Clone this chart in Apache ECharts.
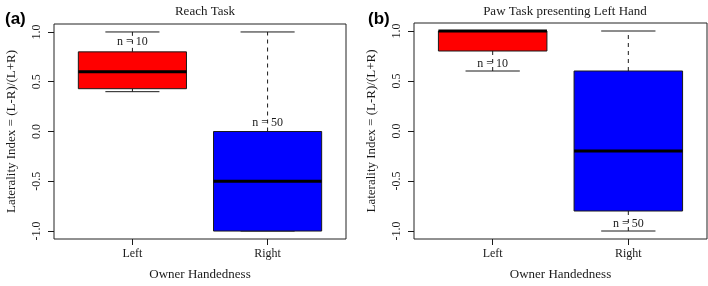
<!DOCTYPE html>
<html>
<head>
<meta charset="utf-8">
<script src="https://cdn.jsdelivr.net/npm/echarts@6/dist/echarts.min.js"></script>
<style>html,body{margin:0;padding:0;background:#fff}#c{width:708px;height:286px}</style>
</head>
<body>
<div id="c"></div>
<script>
// ---- data ----
const categories = ['Left', 'Right'];
const panelTitles = ['Reach Task', 'Paw Task presenting Left Hand'];
const panelLetters = ['(a)', '(b)'];
const yTicks = [-1.0, -0.5, 0.0, 0.5, 1.0];
// [lowWhisker, Q1, median, Q3, highWhisker] per category
const reachLeft  = [0.40, 0.43, 0.60, 0.80, 1.00];
const reachRight = [-1.00, -1.00, -0.50, 0.00, 1.00];
const pawLeft    = [0.60, 0.80, 1.00, 1.00, 1.00];
const pawRight   = [-1.00, -0.80, -0.20, 0.60, 1.00];
const nCounts = [10, 50];
const reachLabelY = [0.90, 0.09];
const pawLabelY = [0.67, -0.93];
const boxColors = ['#ff0000', '#0000ff'];

const serif = '"Liberation Serif", "Times New Roman", serif';
const ink = '#1a1a1a';

function renderBox(params, api) {
  const x = api.value(0);
  const lo = api.value(1), q1 = api.value(2), med = api.value(3), q3 = api.value(4), hi = api.value(5);
  const ly = api.value(6), n = api.value(7);
  const hw = 0.4, cw = 0.2;
  const p = (xx, yy) => api.coord([xx, yy]);
  const color = api.visual('color');
  const kids = [];
  const dash = { stroke: ink, lineWidth: 1, lineDash: [4, 4] };
  const solid = { stroke: ink, lineWidth: 1 };
  const a = p(x, q3), b = p(x, hi), c = p(x, q1), d = p(x, lo);
  if (hi > q3) kids.push({ type: 'line', shape: { x1: a[0], y1: a[1], x2: b[0], y2: b[1] }, style: dash });
  if (lo < q1) kids.push({ type: 'line', shape: { x1: c[0], y1: c[1], x2: d[0], y2: d[1] }, style: dash });
  const c1 = p(x - cw, hi), c2 = p(x + cw, hi);
  kids.push({ type: 'line', shape: { x1: c1[0], y1: c1[1], x2: c2[0], y2: c2[1] }, style: solid });
  const c3 = p(x - cw, lo), c4 = p(x + cw, lo);
  kids.push({ type: 'line', shape: { x1: c3[0], y1: c3[1], x2: c4[0], y2: c4[1] }, style: solid });
  const tl = p(x - hw, q3), br = p(x + hw, q1);
  kids.push({ type: 'rect', shape: { x: tl[0], y: tl[1], width: br[0] - tl[0], height: br[1] - tl[1] },
    style: { fill: color, stroke: ink, lineWidth: 1 } });
  const m1 = p(x - hw, med), m2 = p(x + hw, med);
  kids.push({ type: 'line', shape: { x1: m1[0], y1: m1[1], x2: m2[0], y2: m2[1] }, style: { stroke: '#000', lineWidth: 3 } });
  const t = p(x, ly);
  kids.push({ type: 'text', style: { x: t[0], y: t[1], text: 'n = ' + n, align: 'center', verticalAlign: 'middle',
    font: '12px ' + serif, fill: ink } });
  return { type: 'group', children: kids };
}

function seriesData(boxes, labelY) {
  return boxes.map((b, i) => ({ value: [i + 1].concat(b, [labelY[i], nCounts[i]]), itemStyle: { color: boxColors[i] } }));
}

const grids = [
  { left: 54, top: 24, width: 292, height: 222 },
  { left: 414, top: 23, width: 293, height: 222 }
].map(g => Object.assign(g, { show: true, borderColor: '#222', borderWidth: 1, backgroundColor: 'transparent' }));

function xAx(i) {
  return {
    type: 'value', gridIndex: i, min: 0.42, max: 2.58, position: 'bottom',
    axisLine: { show: false, onZero: false }, splitLine: { show: false },
    axisTick: { show: true, length: 6, customValues: [1, 2], lineStyle: { color: ink } },
    axisLabel: { customValues: [1, 2], formatter: v => categories[Math.round(v) - 1], margin: 9,
      fontFamily: serif, fontSize: 12, color: ink },
    name: 'Owner Handedness', nameLocation: 'middle', nameGap: 29,
    nameTextStyle: { fontFamily: serif, fontSize: 13, color: ink }
  };
}
function yAx(i) {
  return {
    type: 'value', gridIndex: i, min: -1.08, max: 1.08, position: 'left',
    axisLine: { show: false, onZero: false }, splitLine: { show: false },
    axisTick: { show: true, length: 6, customValues: yTicks, lineStyle: { color: ink } },
    axisLabel: { customValues: yTicks, rotate: 90, formatter: v => v.toFixed(1), margin: 11,
      fontFamily: serif, fontSize: 12, color: ink },
    name: 'Laterality Index = (L-R)/(L+R)', nameLocation: 'middle', nameGap: 36,
    nameTextStyle: { fontFamily: serif, fontSize: 13, color: ink }
  };
}

const option = {
  animation: false,
  title: [
    { text: panelTitles[0], left: 200, top: 0, textAlign: 'center', textStyle: { fontFamily: serif, fontSize: 13, fontWeight: 'normal', color: ink } },
    { text: panelTitles[1], left: 560, top: 0, textAlign: 'center', textStyle: { fontFamily: serif, fontSize: 13, fontWeight: 'normal', color: ink } },
    { text: panelLetters[0], left: 0, top: 6, textStyle: { fontFamily: '"Liberation Sans", Arial, sans-serif', fontSize: 17, fontWeight: 'bold', color: '#000' } },
    { text: panelLetters[1], left: 363, top: 6, textStyle: { fontFamily: '"Liberation Sans", Arial, sans-serif', fontSize: 17, fontWeight: 'bold', color: '#000' } }
  ],
  grid: grids,
  xAxis: [xAx(0), xAx(1)],
  yAxis: [yAx(0), yAx(1)],
  series: [
    { type: 'custom', xAxisIndex: 0, yAxisIndex: 0, renderItem: renderBox, data: seriesData([reachLeft, reachRight], reachLabelY), clip: false },
    { type: 'custom', xAxisIndex: 1, yAxisIndex: 1, renderItem: renderBox, data: seriesData([pawLeft, pawRight], pawLabelY), clip: false }
  ]
};
echarts.init(document.getElementById('c')).setOption(option);
</script>
</body>
</html>
